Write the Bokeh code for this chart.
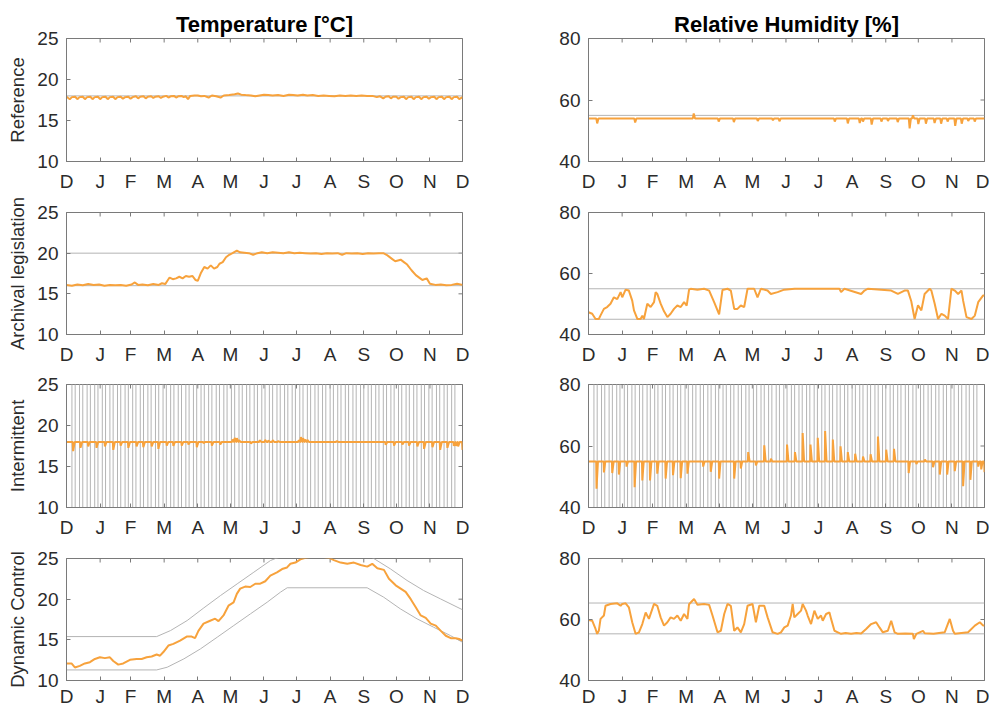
import math
from bokeh.plotting import figure
from bokeh.layouts import column, row
from bokeh.models import FixedTicker, LinearAxis, Range1d
from bokeh.embed import file_html
from bokeh.resources import INLINE

# ---------------- data ----------------
MONTH_TICKS = [0, 31, 59, 90, 121, 151, 182, 212, 243, 274, 304, 335, 365]
MONTH_LABELS = ["D", "J", "F", "M", "A", "M", "J", "J", "A", "S", "O", "N", "D"]
T_TICKS = [10, 15, 20, 25]
RH_TICKS = [40, 60, 80]
T_RANGE = [10, 25]
RH_RANGE = [40, 80]

# Reference
T_REF_LIMIT = [18.0, 18.0]
T_REF_DAYS = [0, 3, 5, 8, 10, 12, 15, 17, 19, 22, 24, 26, 29, 31, 33, 36, 38, 40, 43, 45, 47, 50, 52, 54,
              57, 59, 61, 64, 66, 68, 71, 73, 75, 78, 80, 82, 85, 87, 89, 92, 94, 96, 99, 101, 103, 106,
              108, 110, 112, 114, 118, 121, 124, 127, 131, 134, 138, 142, 145, 150, 155, 158, 161, 165,
              170, 174, 178, 182, 186, 190, 195, 200, 205, 209, 213, 218, 222, 227, 232, 237, 242, 247,
              252, 257, 262, 267, 272, 277, 282, 286, 289, 292, 294, 297, 299, 301, 304, 306, 308, 311,
              313, 315, 318, 320, 322, 325, 327, 329, 332, 334, 336, 339, 341, 343, 346, 348, 350, 353,
              355, 357, 360, 362, 365]
T_REF_VALS = [17.9, 17.6, 17.85, 17.9, 17.6, 17.85, 17.9, 17.6, 17.85, 17.9, 17.6, 17.85, 17.9, 17.6,
              17.85, 17.9, 17.6, 17.85, 17.9, 17.6, 17.85, 17.9, 17.65, 17.85, 17.9, 17.65, 17.85, 17.95,
              17.7, 17.9, 17.95, 17.7, 17.9, 17.95, 17.75, 17.9, 17.95, 17.75, 17.9, 18.0, 17.8, 17.95,
              18.0, 17.8, 17.95, 18.0, 17.85, 17.95, 17.6, 18.0, 18.05, 18.05, 17.95, 18.0, 17.8, 18.05,
              17.95, 17.8, 18.05, 18.1, 18.2, 18.3, 18.15, 18.1, 18.05, 17.95, 18.05, 18.15, 18.1, 18.05,
              18.1, 18.0, 18.15, 18.1, 18.05, 18.15, 18.05, 18.1, 18.0, 18.05, 18.0, 17.95, 18.05, 18.0,
              18.05, 18.0, 18.05, 18.0, 18.0, 17.85, 17.95, 17.7, 17.9, 17.95, 17.7, 17.9, 17.9, 17.65,
              17.85, 17.9, 17.6, 17.85, 17.9, 17.6, 17.85, 17.9, 17.6, 17.85, 17.9, 17.65, 17.85, 17.9,
              17.6, 17.85, 17.9, 17.6, 17.85, 17.9, 17.6, 17.85, 17.9, 17.6, 17.85]

RH_REF_LIMIT = [55.0, 55.0]
RH_REF_BASE = 54.0
RH_REF_EVENT_DAYS = [8, 43, 97, 120, 134, 156, 170, 176, 227, 239, 250, 253, 261, 270, 276, 285, 296,
                     299, 304, 311, 319, 325, 331, 338, 344, 350, 356]
RH_REF_EVENT_VALS = [52.4, 52.7, 55.6, 53.0, 52.8, 53.2, 53.4, 53.1, 53.0, 52.4, 52.5, 53.0, 52.0,
                     53.0, 53.2, 52.8, 50.8, 55.0, 52.2, 52.3, 52.5, 52.3, 53.0, 51.6, 52.3, 53.2, 53.0]

# Archival legislation
T_ARCH_LIMITS = [16.0, 20.0]
T_ARCH_DAYS = [0, 5, 10, 15, 20, 25, 30, 35, 40, 45, 50, 55, 60, 63, 66, 70, 75, 80, 85, 88, 91, 93, 95,
               98, 101, 104, 107, 110, 113, 116, 119, 121, 124, 127, 130, 133, 136, 139, 141, 144, 147,
               150, 153, 157, 160, 164, 168, 172, 176, 180, 185, 190, 195, 200, 205, 210, 215, 220, 225,
               230, 235, 240, 245, 250, 254, 258, 263, 268, 273, 278, 283, 288, 292, 295, 297, 300, 303,
               308, 311, 314, 318, 322, 326, 328, 332, 335, 340, 345, 350, 355, 360, 365]
T_ARCH_VALS = [16.1, 16.0, 16.15, 16.05, 16.2, 16.1, 16.15, 16.0, 16.1, 16.05, 16.1, 16.0, 16.15, 16.4,
               16.1, 16.15, 16.05, 16.2, 16.1, 16.3, 16.2, 16.6, 17.0, 16.8, 16.9, 17.1, 16.9, 17.2,
               17.1, 17.2, 16.7, 16.6, 17.6, 18.3, 18.1, 18.5, 18.1, 18.3, 18.7, 18.9, 19.5, 19.8, 20.0,
               20.3, 20.1, 20.05, 20.0, 19.8, 20.0, 20.1, 20.0, 20.1, 20.05, 20.0, 20.1, 20.0, 20.05,
               20.0, 19.95, 20.0, 19.9, 20.0, 19.95, 20.0, 19.8, 20.0, 19.95, 20.0, 19.9, 20.0, 19.95,
               20.0, 20.0, 19.8, 19.6, 19.3, 19.0, 19.2, 18.9, 18.6, 17.9, 17.3, 16.9, 16.7, 16.9, 16.25,
               16.1, 16.15, 16.05, 16.1, 16.25, 16.1]

RH_ARCH_LIMITS = [45.0, 55.0]
RH_ARCH_DAYS = [0, 3.4, 6.5, 9.5, 11, 14.2, 17.2, 20.3, 23.4, 26.5, 29.6, 31.1, 34.2, 37.2, 40.3, 41.9,
                45, 48, 49.6, 51.1, 54.2, 57.3, 60.4, 61.9, 63.4, 66.5, 69.6, 72.7, 75.7, 78.8, 81.9, 85,
                88.1, 90.5, 92.7, 94.2, 100.4, 106.5, 111.2, 115.8, 120.4, 123.5, 128.1, 131.2, 134.3,
                137.3, 140.4, 143.5, 146.6, 152.7, 155.8, 158.9, 165, 168.1, 174.3, 180.4, 190, 231.3,
                232.8, 235.9, 251.3, 254.4, 257.4, 279, 285.2, 291.3, 294.4, 297.5, 300.6, 303.7, 306.8,
                309.8, 314.5, 316, 319.1, 322.2, 325.3, 328.3, 331.4, 334.5, 337.6, 340.7, 343.8, 345.3,
                348.4, 353, 356.1, 359.2, 363.8, 365]
RH_ARCH_VALS = [47.3, 46.8, 45.1, 45.1, 46.2, 48.4, 49.0, 50.1, 52.2, 51.6, 53.9, 52.2, 54.7, 54.4,
                51.1, 47.9, 45.1, 45.1, 46.2, 45.1, 50.1, 49.0, 50.6, 53.9, 53.3, 50.1, 47.6, 45.7, 46.8,
                48.4, 49.5, 49.0, 50.6, 49.5, 54.7, 55.0, 54.7, 55.0, 54.4, 50.6, 46.6, 54.6, 55.0, 54.4,
                48.4, 48.4, 49.5, 49.0, 55.0, 55.0, 52.2, 55.0, 54.4, 53.3, 53.9, 54.7, 55.0, 55.0, 53.9,
                55.0, 53.3, 54.4, 55.0, 54.4, 53.3, 54.4, 54.4, 50.9, 45.1, 49.6, 47.9, 53.3, 55.0, 54.4,
                50.1, 45.1, 46.8, 46.2, 45.1, 55.0, 54.4, 53.3, 54.4, 51.1, 45.7, 45.1, 46.2, 50.6, 52.8,
                52.8]

# Intermittent
SWITCH_DAYS = [5, 8, 12, 15, 19, 22, 26, 29, 33, 36, 40, 43, 47, 50, 54, 57, 61, 64, 68, 71, 75, 78,
               82, 85, 89, 92, 96, 99, 103, 106, 110, 113, 117, 120, 124, 127, 131, 134, 138, 141, 145,
               148, 152, 155, 159, 162, 166, 169, 173, 176, 180, 183, 187, 190, 194, 197, 201, 204, 208,
               211, 215, 218, 222, 225, 229, 232, 236, 239, 243, 246, 250, 253, 257, 260, 264, 267, 271,
               274, 278, 281, 285, 288, 292, 295, 299, 302, 306, 309, 313, 316, 320, 323, 327, 330, 334,
               337, 341, 344, 348, 351, 355, 358]
T_INT_BASE = 18.0
T_INT_EVENT_DAYS = [6.1, 12.9, 20.0, 27.7, 35.4, 43.1, 49.9, 57.0, 64.6, 70.8, 78.5, 84.7, 92.4, 98.5,
                    106.2, 112.4, 120.1, 126.3, 134.0, 141.7, 153, 155, 157, 159, 170, 178, 183, 186,
                    190, 195, 214, 216, 218, 220, 222, 249, 294.2, 301.9, 309.6, 315.7, 323.4, 329.6,
                    337.3, 344.4, 351.1, 357, 359, 361, 365]
T_INT_EVENT_VALS = [16.87, 17.28, 17.44, 17.28, 17.44, 17.03, 17.56, 17.28, 17.44, 17.36, 17.44, 17.15,
                    17.56, 17.52, 17.56, 17.68, 17.36, 17.85, 17.56, 17.68, 18.3, 18.5, 18.45, 18.2,
                    17.8, 18.2, 18.25, 18.15, 18.2, 18.1, 18.2, 18.58, 18.45, 18.3, 18.25, 18.1, 17.64,
                    17.56, 17.68, 17.56, 17.44, 17.15, 17.36, 17.03, 17.28, 17.5, 17.5, 17.45, 17.03]

RH_INT_BASE = 55.0
RH_INT_EVENT_DAYS = [7.4, 14.2, 21.9, 28.0, 35.1, 42.5, 49.6, 56.7, 63.4, 71.1, 77.9, 85.0, 91.2,
                     105.7, 112.7, 120.4, 134.3, 140.4, 147.2, 154.3, 162.0, 168.1, 183.0, 190.3, 197.4,
                     204.6, 211.3, 218.1, 225.2, 232.3, 239.0, 245.8, 253.0, 260.0, 266.8, 274.4, 281.6,
                     295.1, 302.2, 310.0, 317.6, 323.8, 330.6, 337.6, 345.3, 352.0, 359.2, 362, 365]
RH_INT_EVENT_VALS = [46.1, 51.4, 51.2, 50.7, 53.3, 46.6, 48.8, 48.8, 51.0, 49.4, 50.5, 49.5, 51.0,
                     53.3, 51.6, 49.4, 49.4, 52.7, 58.0, 53.7, 60.2, 55.9, 60.5, 58.0, 64.2, 60.5, 62.7,
                     64.9, 62.1, 59.9, 58.0, 57.5, 56.6, 57.3, 63.1, 58.8, 59.1, 51.2, 54.1, 55.6, 53.1,
                     50.7, 50.7, 51.8, 46.9, 49.0, 53.3, 52.4, 51.5]

# Dynamic control
T_DYN_LOW_DAYS = [0, 83.1, 92.8, 108.2, 123.5, 138.9, 154.2, 169.6, 185.0, 197.2, 203.4, 277.1, 292.4,
                  307.7, 323.1, 338.4, 353.8, 365]
T_DYN_LOW_VALS = [11.3, 11.3, 11.63, 12.66, 13.89, 15.32, 16.76, 18.2, 19.63, 20.86, 21.4, 21.4, 20.24,
                  18.81, 17.58, 16.55, 15.53, 14.7]
T_DYN_HIGH_DAYS = [0, 83.1, 95.9, 111.2, 126.6, 142.0, 157.3, 172.7, 188.0, 192.6, 203.4, 277.1, 283.2,
                   298.5, 313.9, 329.2, 344.6, 365]
T_DYN_HIGH_VALS = [15.4, 15.4, 16.14, 17.37, 18.93, 20.45, 21.88, 23.32, 24.75, 25.0, 25.4, 25.4, 25.0,
                   23.73, 22.3, 21.06, 20.04, 18.7]
T_DYN_DAYS = [0, 4.6, 7.7, 12.3, 16.9, 21.6, 26.2, 30.8, 35.4, 40.0, 43.1, 47.7, 52.3, 58.5, 64.6, 69.3,
              73.9, 78.5, 83.1, 86.2, 89.3, 93.9, 98.5, 104.7, 110.8, 115.4, 118.5, 121.6, 126.3, 132.4,
              137.0, 140.1, 144.7, 149.3, 154.0, 157.0, 160.1, 164.7, 169.4, 174.0, 178.6, 183.2, 187.9,
              194.0, 198.7, 203.3, 206.4, 211.0, 215.6, 220.3, 231.0, 241.8, 246.4, 252.6, 258.8, 264.9,
              271.1, 277.2, 281.8, 286.5, 292.6, 297.2, 303.4, 308.0, 312.6, 317.3, 321.9, 326.5, 331.1,
              335.7, 340.4, 345.0, 349.6, 354.2, 358.8, 361.9, 365]
T_DYN_VALS = [12.1, 12.1, 11.6, 11.8, 12.1, 12.25, 12.65, 12.85, 12.75, 12.85, 12.4, 11.95, 12.1, 12.55,
              12.65, 12.65, 12.85, 12.95, 13.2, 13.05, 13.5, 14.3, 14.5, 14.9, 15.4, 15.4, 15.2, 16.1,
              17.0, 17.35, 17.6, 17.3, 18.0, 19.2, 19.6, 20.65, 21.3, 21.55, 21.5, 21.9, 21.9, 22.2, 22.9,
              23.3, 23.7, 23.9, 24.35, 24.5, 24.9, 25.1, 25.3, 25.1, 24.8, 24.5, 24.35, 24.5, 24.2, 24.0,
              24.35, 23.8, 23.6, 22.5, 21.7, 21.3, 20.9, 20.0, 19.0, 18.0, 17.7, 17.0, 16.75, 16.1, 15.5,
              15.2, 15.2, 15.1, 14.9]

RH_DYN_LIMITS = [55.3, 65.4]
RH_DYN_DAYS = [0, 3.4, 6.5, 8, 9.5, 11.1, 14.2, 15.7, 20.3, 26.5, 29.6, 31.1, 34.2, 37.2, 40.3, 43.4,
               46.5, 49.6, 52.7, 55.7, 60.4, 63.4, 66.5, 69.6, 72.7, 75.7, 78.8, 81.9, 85.0, 88.1, 91.2,
               92.7, 97.3, 100.4, 106.5, 111.2, 114.3, 118.9, 122, 125.1, 128.1, 131.2, 134.3, 137.3,
               140.4, 143.5, 146.6, 151.2, 154.3, 157.4, 162, 165.1, 169.7, 174.3, 177.4, 180.5, 183.6,
               186.6, 188.2, 189.7, 192.8, 195.9, 197.4, 200.5, 202, 205.1, 208.2, 211.3, 214.3, 215.9,
               219, 222.1, 223.6, 226.7, 229.8, 232.8, 237, 242, 247, 251.3, 255.9, 260.5, 265.1, 268.2,
               271.3, 275.9, 279, 282.1, 285.2, 292, 299, 299.9, 302.2, 308.3, 309.9, 318, 328.3, 333,
               336, 337.6, 349.9, 356.1, 360.7, 363.8, 365]
RH_DYN_VALS = [59.8, 59.6, 56.9, 55.3, 56.3, 60.2, 61.3, 64.5, 65.1, 65.3, 64.5, 65.1, 65.3, 64.0, 59.1,
               55.3, 55.8, 58.5, 62.3, 60.2, 65.1, 64.5, 60.7, 58.0, 59.1, 60.7, 60.2, 61.3, 59.6, 61.8,
               60.2, 65.0, 66.7, 64.8, 65.1, 64.8, 61.3, 55.8, 56.3, 61.8, 65.1, 64.5, 56.3, 57.4, 55.8,
               58.5, 64.5, 65.1, 59.1, 64.5, 64.5, 60.7, 55.8, 55.3, 55.8, 57.4, 58.0, 61.3, 65.1, 60.7,
               61.8, 62.9, 65.1, 62.9, 61.3, 58.5, 62.9, 60.2, 61.3, 59.6, 61.8, 62.3, 60.2, 56.3, 55.8,
               55.3, 55.6, 55.3, 55.6, 55.4, 56.9, 58.5, 59.1, 57.4, 55.8, 56.3, 59.6, 55.8, 55.3, 55.4,
               55.3, 53.6, 55.3, 56.3, 55.5, 55.3, 55.8, 60.2, 56.3, 55.3, 55.8, 58.0, 59.1, 58.0, 58.0]

# ---------------- styling ----------------
ORANGE = "#F7A23C"
GREY = "#b4b4b4"
BOX = "#7a7a7a"
TEXT = "#2b2b2b"
FONT = "Liberation Sans"


def spiky(base, ev_days, ev_vals, pre, post, x0=0, x1=365):
    xs, ys = [x0], [base]
    n = len(ev_days)
    for i in range(n):
        d, v = ev_days[i], ev_vals[i]
        if i == 0 or d - ev_days[i - 1] > pre + post:
            if d - pre > xs[-1]:
                xs.append(d - pre); ys.append(base)
        xs.append(d); ys.append(v)
        if i == n - 1 or ev_days[i + 1] - d > pre + post:
            if d + post < x1:
                xs.append(d + post); ys.append(base)
    if xs[-1] < x1:
        xs.append(x1); ys.append(base)
    return xs, ys


def make_fig(col, rowi, yr, yticks, ylabel=None, title=None):
    tops = [38, 17, 16, 17]
    heights = [195, 173, 173, 168]
    bottoms = [34, 34, 34, 29]
    if col == 0:
        width, left, right = 500, 66, 38
    else:
        width, left, right = 489, 88, 5
    kw = dict(width=width, height=heights[rowi], x_range=Range1d(0, 365),
              y_range=Range1d(yr[0], yr[1]), output_backend="svg", toolbar_location=None,
              x_axis_type=None, y_axis_type=None,
              min_border_left=left, min_border_right=right,
              min_border_top=tops[rowi], min_border_bottom=bottoms[rowi])
    if title:
        kw["title"] = title
    p = figure(**kw)
    p.outline_line_color = BOX
    p.outline_line_width = 1
    p.background_fill_color = "white"
    p.border_fill_color = "white"
    p.xgrid.visible = False
    p.ygrid.visible = False
    if title:
        p.title.align = "center"
        p.title.text_font = FONT
        p.title.text_font_size = "22px"
        p.title.text_font_style = "bold"
        p.title.text_color = "black"
        p.title.standoff = 3

    overrides = {t: l for t, l in zip(MONTH_TICKS, MONTH_LABELS)}
    xb = LinearAxis(ticker=FixedTicker(ticks=MONTH_TICKS), major_label_overrides=overrides)
    yl = LinearAxis(ticker=FixedTicker(ticks=yticks))
    for ax in (xb, yl):
        ax.axis_line_color = BOX
        ax.major_tick_line_color = BOX
        ax.major_tick_in = 4
        ax.major_tick_out = 0
        ax.minor_tick_line_color = None
        ax.major_label_text_font = FONT
        ax.major_label_text_color = TEXT
        ax.major_label_text_font_size = "19px"
    xb.major_label_standoff = 9 if rowi < 3 else 5
    yl.major_label_standoff = 8
    if ylabel:
        yl.axis_label = ylabel
        yl.axis_label_text_font = FONT
        yl.axis_label_text_font_size = "18.5px"
        yl.axis_label_text_font_style = "normal"
        yl.axis_label_text_color = TEXT
        yl.axis_label_standoff = 6
    p.add_layout(xb, "below")
    p.add_layout(yl, "left")

    # inward tick marks on the top and right edges of the box (clipped to the frame)
    p.scatter(MONTH_TICKS, [yr[1]] * len(MONTH_TICKS), marker="dash", angle=math.pi / 2,
              size=8, line_color=BOX, line_width=1)
    p.scatter([365] * len(yticks), yticks, marker="dash", size=8, line_color=BOX, line_width=1)
    return p


figs = []

# Row 1: Reference
p = make_fig(0, 0, T_RANGE, T_TICKS, "Reference", "Temperature [\u00b0C]")
p.line([0, 365], T_REF_LIMIT, color=GREY, line_width=1)
p.line(T_REF_DAYS, T_REF_VALS, color=ORANGE, line_width=2)
q = make_fig(1, 0, RH_RANGE, RH_TICKS, None, "Relative Humidity [%]")
q.line([0, 365], RH_REF_LIMIT, color=GREY, line_width=1)
xs, ys = spiky(RH_REF_BASE, RH_REF_EVENT_DAYS, RH_REF_EVENT_VALS, 0.8, 1.2)
q.line(xs, ys, color=ORANGE, line_width=2)
figs.append(row(p, q))

# Row 2: Archival legislation
p = make_fig(0, 1, T_RANGE, T_TICKS, "Archival legislation")
for lim in T_ARCH_LIMITS:
    p.line([0, 365], [lim, lim], color=GREY, line_width=1)
p.line(T_ARCH_DAYS, T_ARCH_VALS, color=ORANGE, line_width=2)
q = make_fig(1, 1, RH_RANGE, RH_TICKS)
for lim in RH_ARCH_LIMITS:
    q.line([0, 365], [lim, lim], color=GREY, line_width=1)
q.line(RH_ARCH_DAYS, RH_ARCH_VALS, color=ORANGE, line_width=2)
figs.append(row(p, q))

# Row 3: Intermittent
p = make_fig(0, 2, T_RANGE, T_TICKS, "Intermittent")
p.segment(x0=SWITCH_DAYS, y0=[T_RANGE[0] - 1] * len(SWITCH_DAYS), x1=SWITCH_DAYS,
          y1=[T_RANGE[1] + 1] * len(SWITCH_DAYS), color=GREY, line_width=1)
xs, ys = spiky(T_INT_BASE, T_INT_EVENT_DAYS, T_INT_EVENT_VALS, 0.4, 1.5)
p.line(xs, ys, color=ORANGE, line_width=2)
q = make_fig(1, 2, RH_RANGE, RH_TICKS)
q.segment(x0=SWITCH_DAYS, y0=[RH_RANGE[0] - 1] * len(SWITCH_DAYS), x1=SWITCH_DAYS,
          y1=[RH_RANGE[1] + 1] * len(SWITCH_DAYS), color=GREY, line_width=1)
xs, ys = spiky(RH_INT_BASE, RH_INT_EVENT_DAYS, RH_INT_EVENT_VALS, 0.3, 1.3)
q.line(xs, ys, color=ORANGE, line_width=2)
figs.append(row(p, q))

# Row 4: Dynamic control
p = make_fig(0, 3, T_RANGE, T_TICKS, "Dynamic Control")
p.line(T_DYN_LOW_DAYS, T_DYN_LOW_VALS, color=GREY, line_width=1)
p.line(T_DYN_HIGH_DAYS, T_DYN_HIGH_VALS, color=GREY, line_width=1)
p.line(T_DYN_DAYS, T_DYN_VALS, color=ORANGE, line_width=2)
q = make_fig(1, 3, RH_RANGE, RH_TICKS)
for lim in RH_DYN_LIMITS:
    q.line([0, 365], [lim, lim], color=GREY, line_width=1)
q.line(RH_DYN_DAYS, RH_DYN_VALS, color=ORANGE, line_width=2)
figs.append(row(p, q))

layout = column(*figs)
open("out.html", "w").write(file_html(layout, INLINE))
